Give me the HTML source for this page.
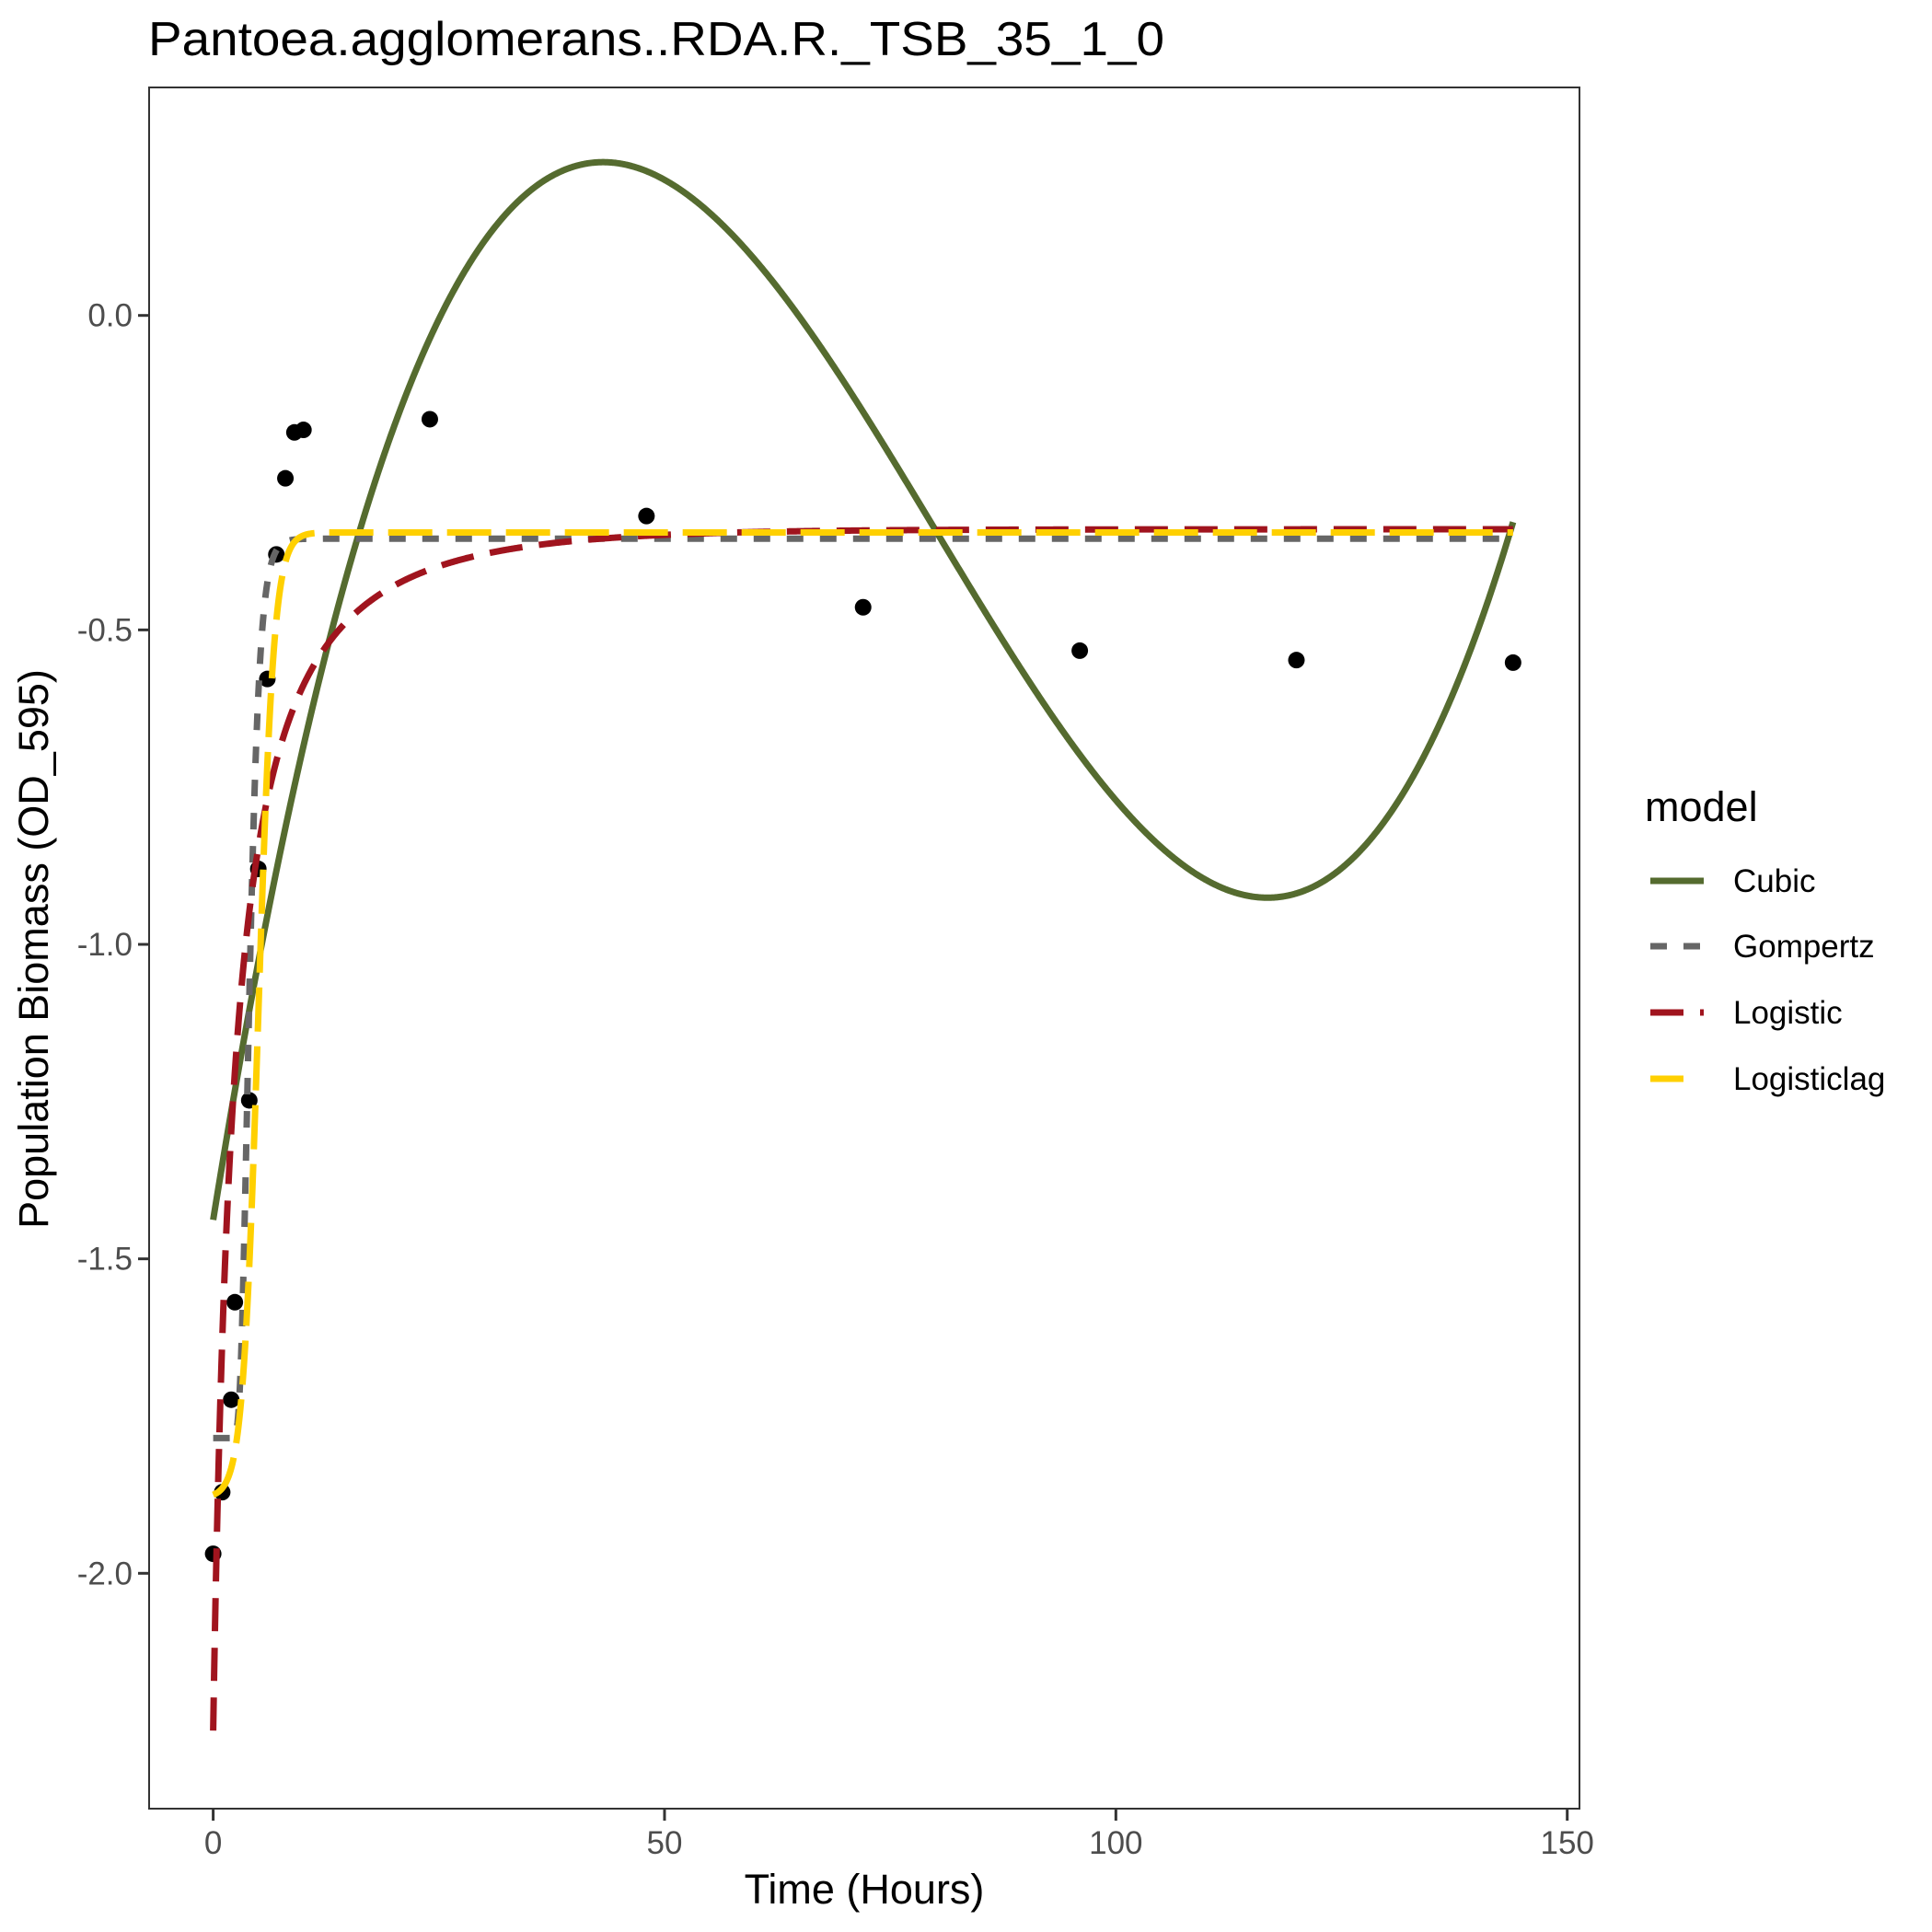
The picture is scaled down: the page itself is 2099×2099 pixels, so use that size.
<!DOCTYPE html>
<html><head><meta charset="utf-8"><style>
html,body{margin:0;padding:0;background:#fff}
svg{display:block;font-family:"Liberation Sans",Arial,sans-serif}
</style></head><body>
<svg id="chart" width="2099" height="2099" viewBox="0 0 2099 2099">
<rect width="2099" height="2099" fill="#fff"/>
<text x="161" y="60" font-size="52" textLength="1104" lengthAdjust="spacingAndGlyphs" fill="#000">Pantoea.agglomerans..RDA.R._TSB_35_1_0</text>
<g id="panel"></g>
<rect x="162" y="95" width="1554" height="1870" fill="none" stroke="#333" stroke-width="2"/>
<g id="axes"></g>
<text x="939" y="2068" font-size="45" text-anchor="middle">Time (Hours)</text>
<text transform="translate(52,1031) rotate(-90)" font-size="45" text-anchor="middle">Population Biomass (OD_595)</text>
<g>
<text x="1787" y="892" font-size="45">model</text>
<line x1="1793" y1="957" x2="1851" y2="957" stroke="#556B2F" stroke-width="7"/>
<text x="1883" y="969" font-size="35">Cubic</text>
<line x1="1793" y1="1028" x2="1851" y2="1028" stroke="#666" stroke-width="7" stroke-dasharray="18,18"/>
<text x="1883" y="1040" font-size="35">Gompertz</text>
<line x1="1793" y1="1100" x2="1851" y2="1100" stroke="#A0141E" stroke-width="7" stroke-dasharray="36,18"/>
<text x="1883" y="1112" font-size="35">Logistic</text>
<line x1="1793" y1="1172" x2="1851" y2="1172" stroke="#FFD000" stroke-width="7" stroke-dasharray="36,30"/>
<text x="1883" y="1184" font-size="35">Logisticlag</text>
</g>
</svg>
<script>
const obsTime = [0,1,2,2.4,4,5,6,7,8,9,10,24,48,72,96,120,144];
const obsBiomass = [-1.969,-1.871,-1.724,-1.569,-1.248,-0.880,-0.578,-0.380,-0.259,-0.186,-0.182,-0.165,-0.319,-0.464,-0.533,-0.548,-0.552];
const xTicks = [0,50,100,150];
const yTicks = [0,-0.5,-1,-1.5,-2];
const yTickLabels = ["0.0","-0.5","-1.0","-1.5","-2.0"];
const cubicParams = [1.76e-5, 43.2, 116.8, -1.438];
const gompertzParams = [-1.785, -0.355, 0.7, 3.0];
const logisticParams = [-2.25, -0.34, 0.07];
const logisticlagParams = [-1.88, -0.345, 1.15, 5];
const tMax = 144;

const X0=231.6, XS=(1702.7-231.6)/150, Y0=342.7, YS=683.3;
const xs=t=>X0+t*XS, ys=v=>Y0-v*YS;
const NS="http://www.w3.org/2000/svg";
const panel=document.getElementById('panel'), axes=document.getElementById('axes');
function mk(tag,attrs,parent){const e=document.createElementNS(NS,tag);for(const k in attrs)e.setAttribute(k,attrs[k]);parent.appendChild(e);return e;}

xTicks.forEach(t=>{
  const l=mk('line',{x1:xs(t),x2:xs(t),y1:1966,y2:1978,stroke:'#333','stroke-width':3},axes);
  
  
  const tx=mk('text',{x:xs(t),y:2014,'font-size':35,'text-anchor':'middle',fill:'#4d4d4d'},axes);
  tx.textContent=t;
  
  
});
yTicks.forEach((v,i)=>{
  const l=mk('line',{x1:150,x2:162,y1:ys(v),y2:ys(v),stroke:'#333','stroke-width':3},axes);
  
  
  const tx=mk('text',{x:144,y:ys(v)+12,'font-size':35,'text-anchor':'end',fill:'#4d4d4d'},axes);
  tx.textContent=yTickLabels[i];
  
  
});

const models={
  cubic:t=>{const [a,m1,m2,c]=cubicParams;return a*(t*t*t/3-(m1+m2)/2*t*t+m1*m2*t)+c;},
  gompertz:t=>{const [n0,k,r,lag]=gompertzParams;const A=k-n0;return n0+A*Math.exp(-Math.exp(r*Math.E*(lag-t)/A+1));},
  logistic:t=>{const [n0,k,r]=logisticParams;const E=Math.exp(r*t);return k*n0*E/(k+n0*(E-1));},
  logisticlag:t=>{const [n0,k,kk,tm]=logisticlagParams;return n0+(k-n0)/(1+Math.exp(-kk*(t-tm)));}
};
function curve(fn,style,name){
  let d='';
  for(let i=0;i<=1440;i++){const t=i*tMax/1440;d+=(i?'L':'M')+xs(t).toFixed(2)+','+ys(fn(t)).toFixed(2);}
  const p=mk('path',Object.assign({d:d,fill:'none','stroke-width':7},style),panel);
  
  
}
obsTime.forEach((t,i)=>{
  const c=mk('circle',{cx:xs(t),cy:ys(obsBiomass[i]),r:9,fill:'#000'},panel);
  
  
});
curve(models.cubic,{stroke:'#556B2F'},'cubic-line');
curve(models.gompertz,{stroke:'#666','stroke-dasharray':'18,18'},'gompertz-line');
curve(models.logistic,{stroke:'#A0141E','stroke-dasharray':'36,18'},'logistic-line');
curve(models.logisticlag,{stroke:'#FFD000','stroke-dasharray':'48,16'},'logisticlag-line');
</script>
</body></html>
